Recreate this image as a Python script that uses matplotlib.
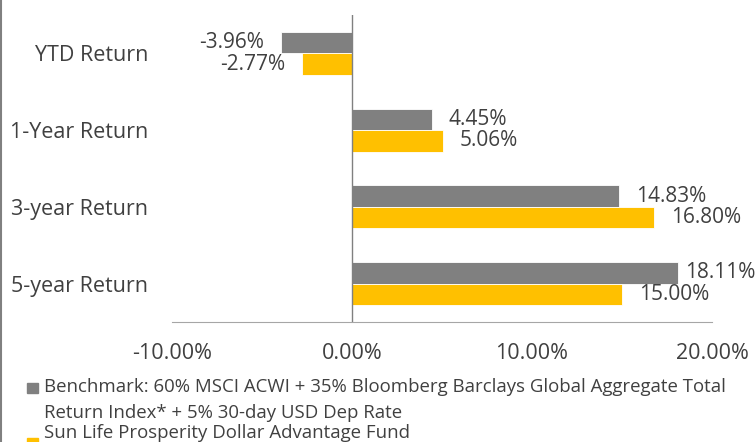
import matplotlib
matplotlib.use("Agg")
import matplotlib.pyplot as plt
from matplotlib.patches import Rectangle
from matplotlib.lines import Line2D
import numpy as np

categories = ["YTD Return", "1-Year Return", "3-year Return", "5-year Return"]
benchmark = [-3.96, 4.45, 14.83, 18.11]
fund = [-2.77, 5.06, 16.80, 15.00]
xticks = [-10, 0, 10, 20]
legend_bench = ["Benchmark: 60% MSCI ACWI + 35% Bloomberg Barclays Global Aggregate Total",
                "Return Index* + 5% 30-day USD Dep Rate"]
legend_fund = "Sun Life Prosperity Dollar Advantage Fund"

GRAY = "#808080"
GOLD = "#FFC000"
TXT = "#404040"

plt.rcParams["font.family"] = ["Open Sans", "DejaVu Sans"]

W, H = 756, 442
fig = plt.figure(figsize=(W / 100, H / 100), dpi=100)
ax = fig.add_axes([172 / W, 1 - 322 / H, 540 / W, 307 / H])

y = np.arange(len(categories))
bh = 0.28
ax.barh(y - bh / 2, benchmark, height=bh, color=GRAY, edgecolor="white", linewidth=0.6)
ax.barh(y + bh / 2, fund, height=bh, color=GOLD, edgecolor="white", linewidth=0.6)

labels = []
for vals, off in [(benchmark, -bh / 2), (fund, bh / 2)]:
    for i, v in enumerate(vals):
        dx = 12 if v >= 0 else -12
        t = ax.annotate(f"{v:.2f}%", (v, i + off), xytext=(dx, 0), textcoords="offset points",
                        ha="left" if v >= 0 else "right", va="center", fontsize=15, color=TXT)
        labels.append((t, dx))

ax.set_xlim(-10, 20)
ax.set_ylim(3.5, -0.5)
ax.set_xticks(xticks)
ax.set_xticklabels([f"{t:.2f}%" for t in xticks], fontsize=15.5, color=TXT)
ax.set_yticks(y)
ax.set_yticklabels(categories, fontsize=15.5, color=TXT)
ax.tick_params(axis="both", length=0)
ax.tick_params(axis="x", pad=15)
ax.tick_params(axis="y", pad=17)
for s in ["top", "right", "left"]:
    ax.spines[s].set_visible(False)
ax.spines["bottom"].set_color("#A6A6A6")
ax.axvline(0, color="#808080", linewidth=1)

# pull value labels back inside the figure if they run past the right edge
fig.canvas.draw()
r = fig.canvas.get_renderer()
for t, dx in labels:
    ext = t.get_window_extent(r)
    over = ext.x1 - (W - 1)
    if over > 0:
        t.set_position((dx - over * 72 / 100, 0))

# legend drawn by hand to match wrapped layout
fig.add_artist(Rectangle((27 / W, 1 - 393 / H), 11 / W, 10 / H, transform=fig.transFigure,
                         color=GRAY))
fig.text(44 / W, 1 - 387 / H, legend_bench[0], fontsize=13.4, color=TXT, va="center")
fig.text(44 / W, 1 - 413 / H, legend_bench[1], fontsize=13.4, color=TXT, va="center")
fig.add_artist(Rectangle((27 / W, 1 - 448 / H), 11 / W, 10 / H, transform=fig.transFigure,
                         color=GOLD))
fig.text(44 / W, 1 - 433 / H, legend_fund, fontsize=13.4, color=TXT, va="center")

fig.add_artist(Line2D([0.5 / W, 0.5 / W], [0, 1], transform=fig.transFigure, color="#808080",
                      linewidth=1.5))

fig.savefig("out.png", dpi=100)
